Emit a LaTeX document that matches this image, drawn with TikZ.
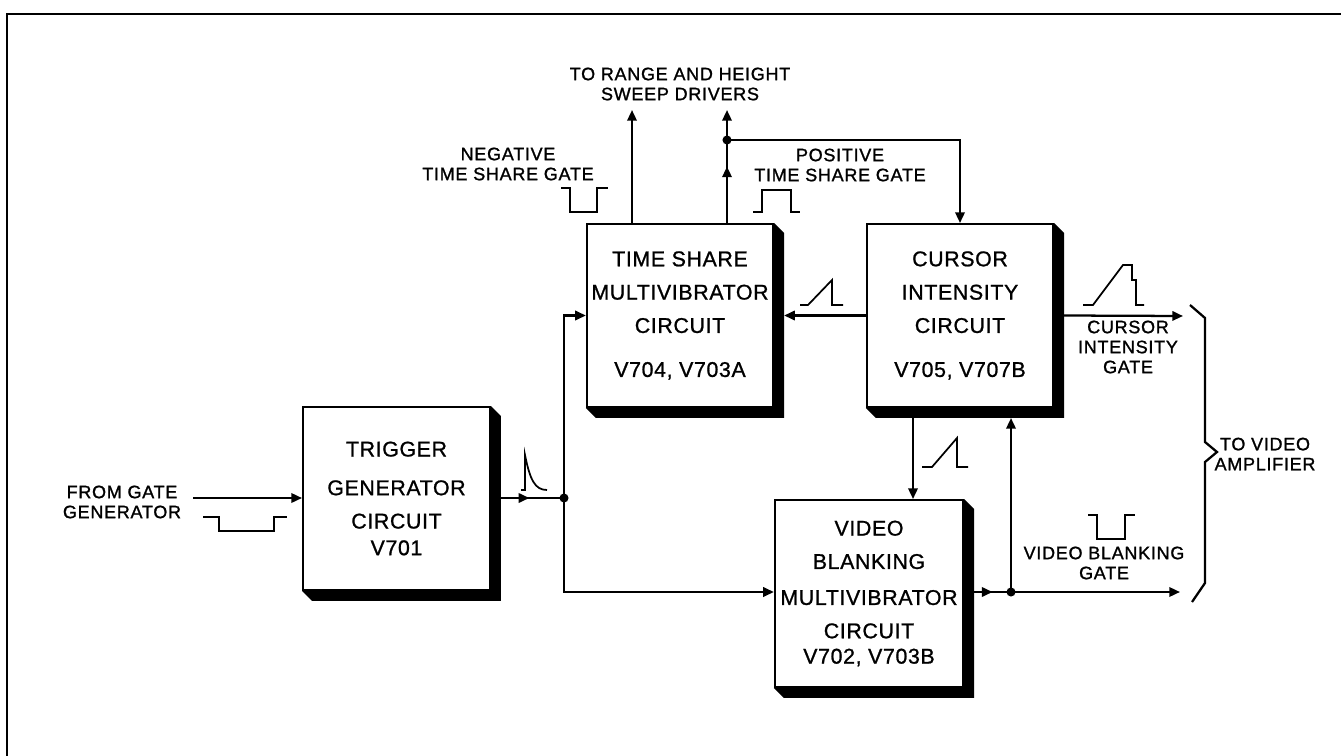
\documentclass[tikz,border=0pt]{standalone}
\usepackage{fontspec}
\setmainfont{Liberation Sans}
\newfontfamily\lblfont[LetterSpace=4,FakeBold=1.2]{Liberation Sans}
\newfontfamily\blkfont[LetterSpace=3,FakeBold=1]{Liberation Sans}
\usetikzlibrary{arrows.meta,calc,decorations.markings}

\tikzset{
  block/.style 2 args={draw,line width=1.7pt,inner sep=0pt,align=center,
    minimum width=#1,minimum height=#2,font=\blkfont\fontsize{16}{25}\selectfont},
  lbl/.style={align=center,inner sep=1pt,font=\lblfont\fontsize{13.5}{15}\selectfont},
  wire/.style={line width=1.7pt},
  arr/.style={wire,-{Triangle[length=8pt,width=7pt]}},
  midarr/.style={wire,postaction={decorate},
    decoration={markings,mark=at position #1 with {\arrow{Triangle[length=8pt,width=7pt]}}}},
  wave/.style={line width=1.3pt},
}

\begin{document}
\begin{tikzpicture}[x=0.75pt,y=-0.75pt]
\useasboundingbox (0,0) rectangle (1341,756);
% frame
\draw[line width=1.8pt] (7,756) -- (7,14) -- (1341,14);

% blocks
\node[block={140pt}{137pt}] (tg) at (396.5,498.5) {TRIGGER\\[4pt]GENERATOR\\CIRCUIT\\[-5pt]V701};
\node[block={139.5pt}{137pt}] (ts) at (680,315.5) {TIME SHARE\\MULTIVIBRATOR\\CIRCUIT\\[8pt]V704, V703A};
\node[block={139.5pt}{137pt}] (ci) at (960,315.5) {CURSOR\\INTENSITY\\CIRCUIT\\[8pt]V705, V707B};
\node[block={141pt}{140pt}] (vb) at (869,593.5) {VIDEO\\BLANKING\\[2pt]MULTIVIBRATOR\\CIRCUIT\\[-6pt]V702, V703B};
\foreach \b in {tg,ts,ci,vb}
  \fill (\b.north east) -- ++(10,10) -- ($(\b.south east)+(10,10)$)
        -- ($(\b.south west)+(10,10)$) -- (\b.south west) -- (\b.south east) -- cycle;

% points
\coordinate (in) at (193,498);
\coordinate (j1) at (564,498);
\coordinate (j2) at (1011,592);
\coordinate (up1) at (632,110);
\coordinate (up2) at (727,110);
\coordinate (d1) at (727,140);
\coordinate (cv) at (913,0);
\coordinate (ciout) at (1183,316);
\coordinate (vbout) at (1180,592);

% connectors
\draw[arr] (in) -- (tg.west |- in);
\draw[midarr=0.45] ($(tg.east |- j1)+(10,0)$) -- (j1);
\draw[arr] (j1) |- (ts.west);
\draw[arr] (j1) |- (vb.west |- j2);
\draw[arr] (ts.north -| up1) -- (up1);
\draw[arr,midarr=0.5] (ts.north -| up2) -- (up2);
\draw[arr] (d1) -| (ci.north);
\draw[arr] (ci.west) -- ($(ts.east)+(10,0)$);
\draw[arr] ($(ci.east)+(10,0)$) -- (ciout);
\draw[arr] (ci.south -| cv) -- (vb.north -| cv);
\draw[arr] (j2) -- ($(ci.south -| j2)+(0,10)$);
\draw[midarr=0.5] ($(vb.east |- j2)+(10,0)$) -- (j2);
\draw[arr] (j2) -- (vbout);
\foreach \p in {j1,j2,d1} \fill (\p) circle (3.4pt);

% waveforms
\draw[wave] (203,517) -- (219,517) -- (219,531) -- (274,531) -- (274,517) -- (287,517);
\draw[wave] (521,490) -- (525,490) -- (525,455) .. controls (530,480) and (535,490) .. (547,490);
\draw[wave] (561,188) -- (570,188) -- (570,212) -- (597,212) -- (597,188) -- (608,188);
\draw[wave] (753,212) -- (762,212) -- (762,190) -- (791,190) -- (791,212) -- (800,212);
\draw[wave] (800,305) -- (808,305) -- (832,280) -- (832,305) -- (843,305);
\draw[wave] (1083,305) -- (1093,305) -- (1123,265) -- (1132,265) -- (1132,280)
            -- (1136,280) -- (1136,305) -- (1144,305);
\draw[wave] (922,467) -- (932,467) -- (957,438) -- (957,467) -- (968,467);
\draw[wave] (1088,515) -- (1097,515) -- (1097,539) -- (1125,539) -- (1125,515) -- (1135,515);

% brace
\draw[wire] (1190,305) -- (1205,318) -- (1205,442) -- (1217,452) -- (1205,462)
            -- (1205,583) -- (1192,602);

% labels
\node[lbl] (lfrom) at (122,502) {FROM GATE\\GENERATOR};
\node[lbl] (lsweep) at (680,84) {TO RANGE AND HEIGHT\\SWEEP DRIVERS};
\node[lbl] (lneg) at (508,164) {NEGATIVE\\TIME SHARE GATE};
\node[lbl] (lpos) at (840,165) {POSITIVE\\TIME SHARE GATE};
\node[lbl] (lcur) at (1128,347) {CURSOR\\INTENSITY\\GATE};
\node[lbl] (lvbg) at (1104,563) {VIDEO BLANKING\\GATE};
\node[lbl] (lamp) at (1265,454) {TO VIDEO\\AMPLIFIER};
\end{tikzpicture}
\end{document}
